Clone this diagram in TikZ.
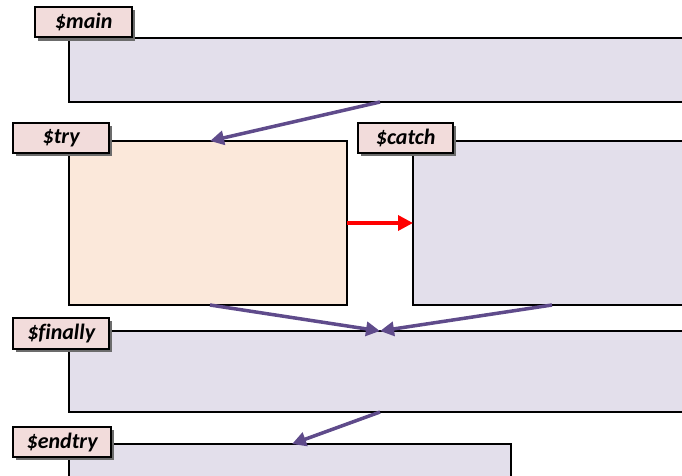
\documentclass[tikz,border=0pt]{standalone}
\usepackage{fontspec}
\setmainfont{Carlito}[Ligatures=NoCommon]
\usetikzlibrary{arrows.meta}
\definecolor{lav}{HTML}{E3DFEB}
\definecolor{peach}{HTML}{FBE8DA}
\definecolor{tagfill}{HTML}{F2DCDB}
\definecolor{flow}{HTML}{5F4B8B}
\tikzset{
  block/.style={draw=black, line width=2.4pt},
  tag/.style={draw=black, line width=2.4pt, fill=tagfill, anchor=north west,
    inner sep=0pt, font=\bfseries\itshape\fontsize{22}{22}\selectfont,
    minimum height=30pt},
  shade/.style={fill=gray!85!black, draw=none},
  flowarrow/.style={draw=flow, line width=3.5pt, -{Triangle[length=14pt,width=14pt]}},
  errarrow/.style={draw=red, line width=3.5pt, -{Triangle[length=15pt,width=15pt]}},
}
\begin{document}
\begin{tikzpicture}[x=1pt,y=-1pt]
\clip (0,0) rectangle (682,476);
\fill[white] (0,0) rectangle (682,476);
% scope blocks
\draw[block, fill=lav] (69,38) rectangle (700,102);
\draw[block, fill=peach] (69,141) rectangle (347,305);
\draw[block, fill=lav] (413,141) rectangle (700,305);
\draw[block, fill=lav] (69,331) rectangle (700,412);
\draw[block, fill=lav] (69,444) rectangle (511,490);
% anchor points on the block edges
\coordinate (mainS) at (380,102);
\coordinate (tryN) at (210,141);
\coordinate (tryE) at (347,223);
\coordinate (catchW) at (413,223);
\coordinate (tryS) at (210,305);
\coordinate (catchS) at (552,305);
\coordinate (finN) at (380,331);
\coordinate (finS) at (380,412);
\coordinate (endN) at (292,444);
% shadows under the tags
\fill[shade] (38,10) rectangle (135,41);
\fill[shade] (16,126) rectangle (112,156);
\fill[shade] (361,126) rectangle (456,156);
\fill[shade] (16,321) rectangle (112,352);
\fill[shade] (16,430) rectangle (114,460);
% tags
\node[tag, minimum width=97pt] (main) at (34,6) {\$main};
\node[tag, minimum width=96pt] (try) at (12,122) {\$try};
\node[tag, minimum width=95pt] (catch) at (357,122) {\$catch};
\node[tag, minimum width=96pt, minimum height=31pt] (finally) at (12,317) {\$finally};
\node[tag, minimum width=98pt] (endtry) at (12,426) {\$endtry};
% control flow
\draw[flowarrow] (mainS) -- (tryN);
\draw[errarrow] (tryE) -- (catchW);
\draw[flowarrow] (tryS) -- (finN);
\draw[flowarrow] (catchS) -- (finN);
\draw[flowarrow] (finS) -- (endN);
\end{tikzpicture}
\end{document}
